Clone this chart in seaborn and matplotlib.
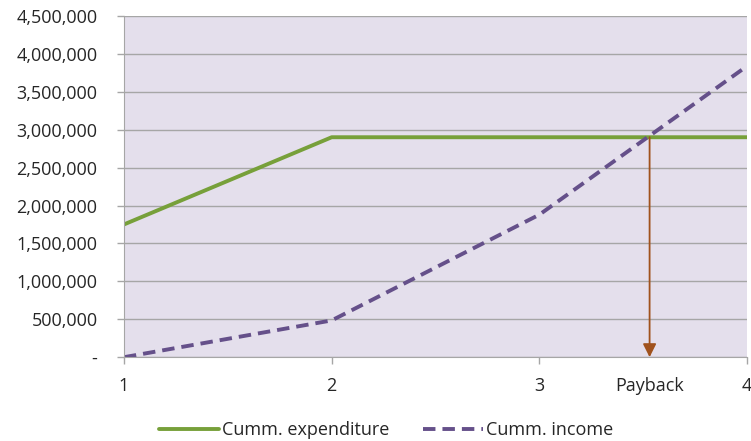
import matplotlib
matplotlib.use('Agg')
import matplotlib.pyplot as plt
import seaborn as sns
import pandas as pd


years = [1, 2, 3, 4]
expenditure = [1750000, 2900000, 2900000, 2900000]
income = [0, 485000, 1880000, 3840000]
payback_year = 3.53
payback_value = 2900000
y_ticks = [0, 500000, 1000000, 1500000, 2000000, 2500000, 3000000, 3500000, 4000000, 4500000]
x_tick_labels = ['1', '2', '3', 'Payback', '4']

SERIES = {'Cumm. expenditure': expenditure, 'Cumm. income': income}
COLORS = {'Cumm. expenditure': '#77A03A', 'Cumm. income': '#65508A'}

df = pd.DataFrame()
for name, vals in SERIES.items():
    part = pd.DataFrame({'year': years, 'value': vals, 'series': name})
    df = pd.concat([df, part], ignore_index=True)

sns.set_style('white')
plt.rcParams['font.family'] = ['Open Sans', 'DejaVu Sans']

fig = plt.figure(figsize=(7.51, 4.41), dpi=100)
ax = fig.add_axes([0.165, 0.19, 0.83, 0.774])
ax.set_facecolor('#E4DFEC')

sns.lineplot(df, x='year', y='value', hue='series', style='series',
             palette=COLORS, dashes={'Cumm. expenditure': '', 'Cumm. income': (3.2, 1.8)},
             linewidth=2.8, ax=ax)

# payback arrow
ax.annotate('', xy=(payback_year, 0), xytext=(payback_year, payback_value),
            arrowprops=dict(arrowstyle='-|>', color='#A0521D', lw=1.3,
                            mutation_scale=20, shrinkA=0, shrinkB=0))

ax.set_xlim(1, 4)
ax.set_ylim(0, 4500000)
ax.set_yticks(y_ticks)
ax.set_yticklabels(['-' if v == 0 else f'{v:,}' for v in y_ticks])
ax.set_xticks([1, 2, 3, payback_year, 4])
ax.set_xticklabels(x_tick_labels)
ax.grid(axis='y', color='#A6A6A6', linewidth=1)
ax.set_axisbelow(True)
for side in ['top', 'right']:
    ax.spines[side].set_visible(False)
ax.spines['left'].set_color('#A6A6A6')
ax.spines['bottom'].set_color('#A6A6A6')
ax.tick_params(axis='both', colors='#A6A6A6', labelsize=13, length=5, width=1,
               direction='out', left=True, bottom=True)
ax.tick_params(axis='x', pad=9)
ax.tick_params(axis='y', pad=14)
for lab in ax.get_xticklabels() + ax.get_yticklabels():
    lab.set_color('#262626')
ax.xaxis.get_major_ticks()[3].tick1line.set_visible(False)
ax.set_xlabel('')
ax.set_ylabel('')

handles, labels = ax.get_legend_handles_labels()
ax.legend(handles, labels, loc='center', bbox_to_anchor=(0.514, 0.025),
          bbox_transform=fig.transFigure, ncol=2, frameon=False, fontsize=13,
          handlelength=3.3, handletextpad=0.15, columnspacing=1.9,
          borderpad=0, borderaxespad=0)

fig.savefig('out.png', dpi=100)
